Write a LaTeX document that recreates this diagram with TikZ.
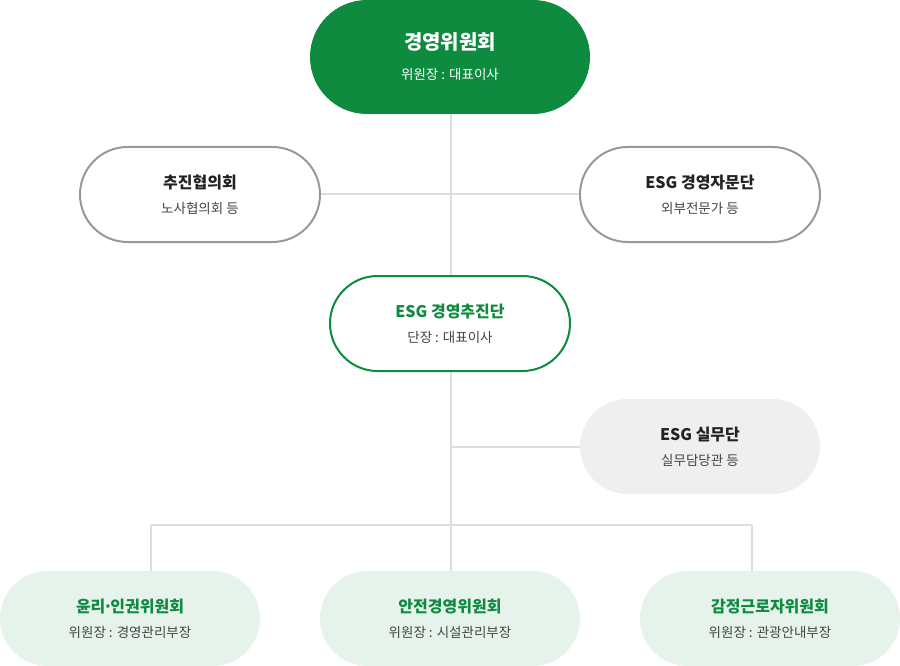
\documentclass[tikz,border=0pt]{standalone}
\usepackage{fontspec}
\setmainfont{Noto Sans CJK KR}
\usetikzlibrary{positioning}
\definecolor{esggreen}{HTML}{0F8B3F}
\definecolor{palegreen}{HTML}{E6F3EB}
\definecolor{palegray}{HTML}{EFEFEF}
\definecolor{linegray}{HTML}{DDDDDD}
\definecolor{bordergray}{HTML}{999999}
\definecolor{titlegray}{HTML}{222222}
\definecolor{subgray}{HTML}{444444}
\newcommand{\orgtext}[2]{{\fontsize{16}{18}\bfseries #1}\\[11pt]{\fontsize{13.5}{15}\selectfont\color{subgray}#2}}
\begin{document}
\begin{tikzpicture}[x=1pt,y=-1pt,
    pill/.style={rounded corners=47.5pt,minimum width=240pt,minimum height=95pt,align=center,inner sep=0pt},
    linkline/.style={draw=linegray,line width=2pt}]
    \useasboundingbox (0,0) rectangle (900,666);
    % boxes
    \node[pill,fill=esggreen,rounded corners=57pt,minimum width=280pt,minimum height=114pt,text=white] (board) at (450,57)
        {{\fontsize{20}{22}\bfseries 경영위원회}\\[16pt]{\fontsize{13.5}{15}\selectfont 위원장 : 대표이사}};
    \node[pill,draw=bordergray,line width=2pt,fill=white,text=titlegray] (council) at (200,194.5) {\orgtext{추진협의회}{노사협의회 등}};
    \node[pill,draw=bordergray,line width=2pt,fill=white,text=titlegray] (advisory) at (700,194.5) {\orgtext{ESG 경영자문단}{외부전문가 등}};
    \node[pill,draw=esggreen,line width=2pt,fill=white,text=esggreen] (drive) at (450,323.5) {\orgtext{ESG 경영추진단}{단장 : 대표이사}};
    \node[pill,fill=palegray,text=titlegray] (work) at (700,446.5) {\orgtext{ESG 실무단}{실무담당관 등}};
    \node[pill,fill=palegreen,minimum width=260pt,text=esggreen] (ethics) at (130,618.5) {\orgtext{윤리\kern-0.15em·\kern-0.15em인권위원회}{위원장 : 경영관리부장}};
    \node[pill,fill=palegreen,minimum width=260pt,text=esggreen] (safety) at (450,618.5) {\orgtext{안전경영위원회}{위원장 : 시설관리부장}};
    \node[pill,fill=palegreen,minimum width=260pt,text=esggreen] (labor) at (770,618.5) {\orgtext{감정근로자위원회}{위원장 : 관광안내부장}};
    % connectors
    \coordinate (split) at (451,525);
    \coordinate (leftdrop) at (151,525);
    \coordinate (rightdrop) at (752,525);
    \draw[linkline] (board.south -| split) -- (drive.north -| split);
    \draw[linkline] (council.east) -- (advisory.west);
    \draw[linkline] (drive.south -| split) -- (split);
    \draw[linkline] (work.west) -- (work.west -| split);
    \draw[linkline] (leftdrop) -- (rightdrop);
    \draw[linkline] (leftdrop) -- (leftdrop |- ethics.north);
    \draw[linkline] (split) -- (split |- safety.north);
    \draw[linkline] (rightdrop) -- (rightdrop |- labor.north);
\end{tikzpicture}
\end{document}
